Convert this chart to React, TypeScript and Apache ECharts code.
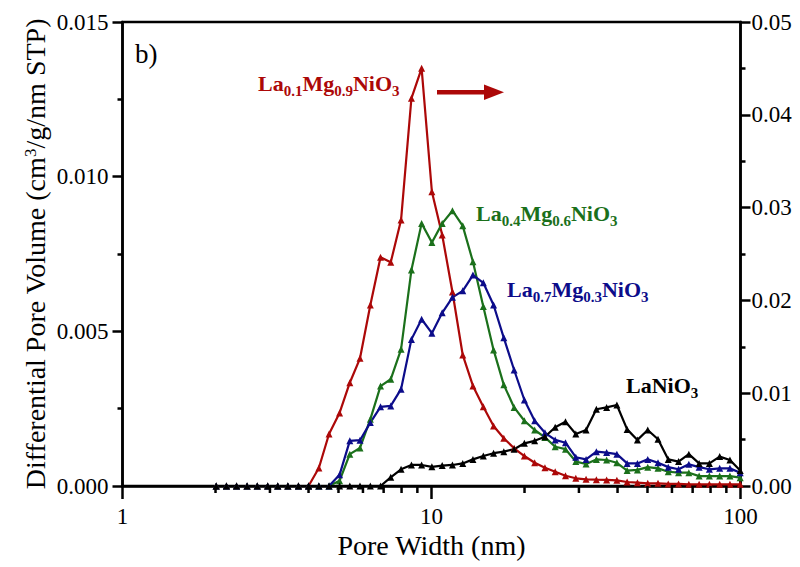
import React, { useEffect, useRef } from "react";
import * as echarts from "echarts";

// Pore width grid (nm)
const poreWidth = [2.01, 2.17, 2.34, 2.53, 2.73, 2.95, 3.18, 3.43, 3.71, 4.0, 4.32, 4.66, 5.04, 5.44, 5.87, 6.34, 6.84, 7.38, 7.97, 8.61, 9.29, 10.03, 10.83, 11.69, 12.62, 13.62, 14.71, 15.88, 17.14, 18.51, 19.98, 21.57, 23.29, 25.14, 27.14, 29.31, 31.64, 34.16, 36.88, 39.8, 42.97, 46.4, 50.09, 54.08, 58.38, 63.03, 68.05, 73.46, 79.31, 85.62, 92.43, 99.77];

// La0.1Mg0.9NiO3 (right axis)
const la01 = [0, 0, 0, 0, 0, 0, 0, 0, 0, 0,
  0.00194, 0.0056, 0.00787, 0.01113, 0.01376, 0.0195, 0.02464, 0.0241, 0.02866, 0.04178, 0.04501, 0.03171, 0.02705, 0.0209, 0.01412, 0.01078, 0.00855, 0.00647, 0.00514, 0.00406, 0.00323, 0.00251, 0.00197, 0.00154, 0.00111, 0.00083, 0.00072, 0.00068, 0.00065, 0.00061, 0.00043, 0.00036, 0.00029, 0.00029, 0.00022, 0.00022, 0.00018, 0.00018, 0.00018, 0.00018, 0.00018, 0.00018];

// La0.4Mg0.6NiO3 (left axis)
const la04 = [0, 0, 0, 0, 0, 0, 0, 0, 0, 0, 0, 0,
  0.00017, 0.00103, 0.00123, 0.00216, 0.00323, 0.00345, 0.00442, 0.00698, 0.00849, 0.00787, 0.00849, 0.0089, 0.00841, 0.00725, 0.0058, 0.0044, 0.00327, 0.00254, 0.00211, 0.00181, 0.00157, 0.00127, 0.00119, 0.00079, 0.00071, 0.00086, 0.00084, 0.00075, 0.0005, 0.00052, 0.00061, 0.00057, 0.00046, 0.00043, 0.00043, 0.00032, 0.00032, 0.00032, 0.00032, 0.00027];

// La0.7Mg0.3NiO3 (left axis)
const la07 = [0, 0, 0, 0, 0, 0, 0, 0, 0, 0, 0, 0,
  0.00036, 0.00146, 0.00148, 0.00205, 0.00256, 0.00259, 0.00313, 0.00474, 0.00539, 0.00494, 0.0056, 0.0061, 0.00631, 0.00682, 0.00657, 0.00585, 0.00479, 0.00375, 0.00278, 0.00211, 0.00172, 0.00149, 0.0014, 0.00093, 0.00086, 0.00111, 0.00108, 0.00103, 0.00073, 0.00073, 0.00086, 0.00075, 0.00061, 0.00054, 0.0007, 0.00061, 0.00054, 0.00057, 0.00057, 0.00043];

// LaNiO3 (left axis)
const laNi = [0, 0, 0, 0, 0, 0, 0, 0, 0, 0, 0, 0, 0, 0, 0, 0, 0,
  0.00028, 0.00054, 0.00068, 0.00068, 0.00062, 0.00066, 0.00068, 0.00073, 0.00086, 0.00097, 0.00106, 0.00111, 0.00119, 0.00138, 0.00146, 0.00159, 0.0019, 0.00208, 0.00168, 0.00181, 0.00248, 0.00254, 0.00262, 0.00183, 0.00149, 0.00181, 0.00151, 0.00086, 0.00079, 0.00103, 0.00073, 0.00073, 0.00095, 0.00084, 0.0005];

const xMinorTicks = [2, 3, 4, 5, 6, 7, 8, 9, 20, 30, 40, 50, 60, 70, 80, 90];

const RED = "#ac0808";
const GREEN = "#1b701b";
const BLUE = "#0c0c8a";
const BLACK = "#000000";
const FONT = "'Liberation Serif', 'Times New Roman', serif";

const pairs = (vals: number[]) => vals.map((v, i) => [poreWidth[i], v]);

const richLabel = (color: string) => ({
  m: { fontFamily: FONT, fontWeight: "bold", fontSize: 22, lineHeight: 30, fill: color, color, verticalAlign: "middle" },
  s: { fontFamily: FONT, fontWeight: "bold", fontSize: 15, lineHeight: 16, fill: color, color, verticalAlign: "bottom" },
});

export default function App() {
  const ref = useRef<HTMLDivElement>(null);
  useEffect(() => {
    if (!ref.current) return;
    const chart = echarts.init(ref.current, null, { renderer: "svg" });
    const lineSeries = (name: string, vals: number[], color: string, yAxisIndex: number) => ({
      name,
      type: "line",
      yAxisIndex,
      data: pairs(vals),
      symbol: "triangle",
      symbolSize: 7,
      showAllSymbol: true,
      lineStyle: { color, width: 2.2 },
      itemStyle: { color },
      clip: false,
    });
    chart.setOption({
      animation: false,
      backgroundColor: "#fff",
      grid: {
        left: 122.5, right: 59.5, top: 22, bottom: 81,
        show: true, borderColor: "#000", borderWidth: 2.5,
        containLabel: false, outerBoundsMode: "none",
      },
      xAxis: {
        type: "log", logBase: 10, min: 1, max: 100,
        name: "Pore Width (nm)", nameLocation: "middle", nameGap: 45,
        nameMoveOverlap: false,
        nameTextStyle: { fontFamily: FONT, fontSize: 28, color: "#000" },
        axisLine: { lineStyle: { color: "#000", width: 2.5 } },
        axisTick: { length: 13, lineStyle: { color: "#000", width: 2.5 } },
        axisLabel: { fontFamily: FONT, fontSize: 23, color: "#000", margin: 19, formatter: (v: number) => String(Math.round(v)) },
        splitLine: { show: false },
      },
      yAxis: [
        {
          type: "value", min: 0, max: 0.015, interval: 0.005, position: "left",
          name: "Differential Pore Volume (cm{sup|3}/g/nm STP)", nameLocation: "middle", nameGap: 73,
          nameMoveOverlap: false,
          nameTextStyle: {
            fontFamily: FONT, fontSize: 28, color: "#000", lineHeight: 28,
            rich: { sup: { fontFamily: FONT, fontSize: 17, color: "#000", lineHeight: 14, verticalAlign: "top" } },
          },
          axisLine: { show: true, lineStyle: { color: "#000", width: 2.5 } },
          axisTick: { show: true, length: 10, lineStyle: { color: "#000", width: 2.5 } },
          minorTick: { show: true, splitNumber: 2, length: 5, lineStyle: { color: "#000", width: 2.5 } },
          axisLabel: { fontFamily: FONT, fontSize: 23, color: "#000", margin: 14, formatter: (v: number) => v.toFixed(3) },
          splitLine: { show: false },
        },
        {
          type: "value", min: 0, max: 0.05, interval: 0.01, position: "right",
          axisLine: { show: true, lineStyle: { color: "#000", width: 2.5 } },
          axisTick: { show: true, length: 10, lineStyle: { color: "#000", width: 2.5 } },
          minorTick: { show: true, splitNumber: 2, length: 5, lineStyle: { color: "#000", width: 2.5 } },
          axisLabel: { fontFamily: FONT, fontSize: 23, color: "#000", margin: 11, formatter: (v: number) => v.toFixed(2) },
          splitLine: { show: false },
        },
      ],
      series: [
        {
          type: "custom",
          silent: true,
          xAxisIndex: 0,
          yAxisIndex: 0,
          clip: false,
          data: xMinorTicks.map((v) => [v, 0]),
          renderItem: (params: any, api: any) => {
            const p = api.coord([api.value(0), 0]);
            return {
              type: "line",
              shape: { x1: p[0], y1: p[1], x2: p[0], y2: p[1] + 7 },
              style: { stroke: "#000", lineWidth: 2.5 },
            };
          },
          z: 5,
        },
        lineSeries("La0.1Mg0.9NiO3", la01, RED, 1),
        lineSeries("La0.4Mg0.6NiO3", la04, GREEN, 0),
        lineSeries("La0.7Mg0.3NiO3", la07, BLUE, 0),
        lineSeries("LaNiO3", laNi, BLACK, 0),
      ],
      graphic: [
        {
          type: "text", x: 135, y: 40,
          style: { text: "b)", font: `27px ${FONT}`, fill: "#000" },
        },
        {
          type: "text", x: 258, y: 68,
          style: { text: "{m|La}{s|0.1}{m|Mg}{s|0.9}{m|NiO}{s|3}", rich: richLabel(RED) },
        },
        {
          type: "text", x: 476, y: 198,
          style: { text: "{m|La}{s|0.4}{m|Mg}{s|0.6}{m|NiO}{s|3}", rich: richLabel(GREEN) },
        },
        {
          type: "text", x: 507, y: 274,
          style: { text: "{m|La}{s|0.7}{m|Mg}{s|0.3}{m|NiO}{s|3}", rich: richLabel(BLUE) },
        },
        {
          type: "text", x: 626, y: 370,
          style: { text: "{m|LaNiO}{s|3}", rich: richLabel(BLACK) },
        },
        {
          type: "line",
          shape: { x1: 437, y1: 92.3, x2: 488, y2: 92.3 },
          style: { stroke: RED, lineWidth: 4.5 },
        },
        {
          type: "polygon",
          shape: { points: [[484, 84.5], [504, 92.3], [484, 100]] },
          style: { fill: RED },
        },
      ],
    });
    return () => chart.dispose();
  }, []);
  return (
    <div
      ref={ref}
      style={{ position: "fixed", left: 0, top: 0, width: 800, height: 567, background: "#fff" }}
    />
  );
}
